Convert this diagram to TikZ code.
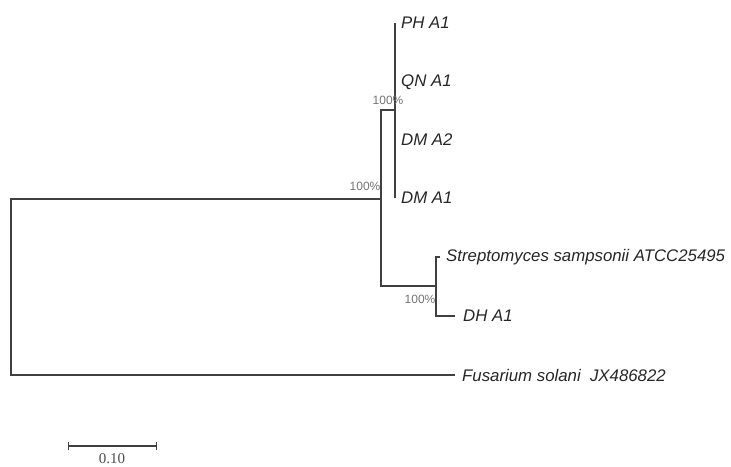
\documentclass[tikz,border=0pt]{standalone}
\usepackage{fontspec}
\setmainfont{Liberation Sans}
\newfontfamily\barfont{Liberation Serif}
\usetikzlibrary{arrows.meta, positioning}
\tikzset{
  branch/.style={draw=black!75, line width=1.1pt},
  taxon/.style={anchor=west, inner sep=0pt, text=black!85, font=\fontsize{16.8}{18}\selectfont\itshape},
  boot/.style={inner sep=0pt, text=black!55, font=\fontsize{12}{14}\selectfont},
  scalebar/.style={draw=black!75, line width=1.1pt, {Bar[width=8pt]}-{Bar[width=8pt]}},
}

\begin{document}
\begin{tikzpicture}[x=1pt, y=-1pt]
    \useasboundingbox (0,0) rectangle (731,466);
    % inner nodes
    \coordinate (n0) at (11,287);
    \coordinate (n1) at (381,199);
    \coordinate (n2) at (395,110);
    \coordinate (n3) at (436,286);
    % branch tips
    \coordinate (t-ph) at (395,23);
    \coordinate (t-qn) at (395,82);
    \coordinate (t-dma2) at (395,140);
    \coordinate (t-dma1) at (395,198);
    \coordinate (t-strep) at (440,257);
    \coordinate (t-dha1) at (455,316);
    \coordinate (t-fus) at (455,375);
    % taxa
    \node[taxon, right=6pt of t-ph] (ph) {PH A1};
    \node[taxon, right=6pt of t-qn] (qn) {QN A1};
    \node[taxon, right=6pt of t-dma2] (dma2) {DM A2};
    \node[taxon, right=6pt of t-dma1] (dma1) {DM A1};
    \node[taxon, right=6pt of t-strep] (strep) {Streptomyces sampsonii ATCC25495};
    \node[taxon, right=8pt of t-dha1] (dha1) {DH A1};
    \node[taxon, right=7pt of t-fus] (fus) {Fusarium solani\ \ JX486822};
    % branches
    \draw[branch] (n0) |- (n1);
    \draw[branch] (n0) |- (t-fus);
    \draw[branch] (n1) |- (n2);
    \draw[branch] (n1) |- (n3);
    \draw[branch] (t-ph) -- (t-dma1);
    \draw[branch] (n3) |- (t-strep);
    \draw[branch] (n3) |- (t-dha1);
    % bootstrap values
    \node[boot] (b1) at (365,186) {100\%};
    \node[boot] (b2) at (388,100) {100\%};
    \node[boot] (b3) at (420,299) {100\%};
    % scale
    \coordinate (s0) at (68,446);
    \coordinate (s1) at (157,446);
    \draw[scalebar] (s0) -- (s1);
    \node[inner sep=0pt, text=black!70, font=\barfont\fontsize{15}{16}\selectfont] (len) at (112,459) {0.10};
\end{tikzpicture}
\end{document}
